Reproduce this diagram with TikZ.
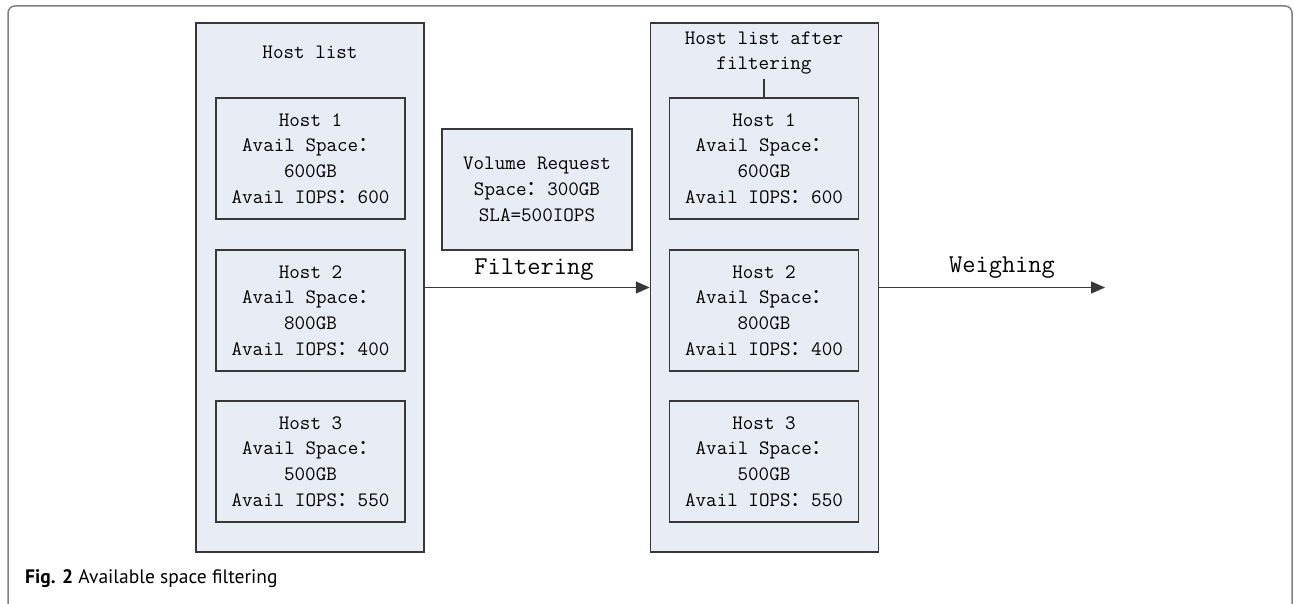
\documentclass[tikz,border=0pt]{standalone}
\usepackage{fontspec}
\newfontfamily\cjk{Noto Sans CJK SC}
\newfontfamily\capfont{PT Sans}
\usetikzlibrary{arrows.meta}
\definecolor{boxfill}{HTML}{E8ECF5}
\definecolor{boxline}{HTML}{383838}
\definecolor{frameline}{HTML}{808080}
\newcommand\diagfont{\ttfamily\fontsize{20.5}{25.7}\selectfont}
\newcommand\flowfont{\ttfamily\fontsize{25.7}{30}\selectfont}
\newcommand\fwcolon{{\cjk ：}}
\begin{document}
\begin{tikzpicture}[x=1pt,y=-1pt,
  bigbox/.style={draw=boxline, fill=boxfill, line width=1.5pt, minimum width=228pt, minimum height=529pt, inner sep=0pt},
  hostbox/.style={draw=boxline, fill=boxfill, line width=1.5pt, minimum width=189pt, minimum height=121pt, inner sep=0pt, align=center, font=\diagfont},
  titletext/.style={align=center, font=\diagfont, inner sep=4pt},
  flowlabel/.style={font=\flowfont, inner sep=0pt},
  conn/.style={draw=boxline, line width=1.5pt},
  flowarrow/.style={conn, -{Triangle[length=14pt,width=12pt]}}]
\useasboundingbox (0,0) rectangle (1294,604);
% outer frame
\draw[frameline, line width=1.5pt, rounded corners=7pt] (8,620) -- (8,6) -- (1292,6) -- (1292,620);
% big boxes
\node[bigbox] (left) at (310,287.5) {};
\node[bigbox] (right) at (764.5,287.5) {};
% titles
\node[titletext] (ltitle) at (310,52) {Host list};
\node[titletext] (rtitle) at (764,53) {Host list after\\filtering};
% left hosts
\node[hostbox] (lh1) at (310.5,158.5) {Host 1\\Avail Space\fwcolon\\600GB\\Avail IOPS\fwcolon 600};
\node[hostbox] (lh2) at (310.5,310.5) {Host 2\\Avail Space\fwcolon\\800GB\\Avail IOPS\fwcolon 400};
\node[hostbox] (lh3) at (310.5,461.5) {Host 3\\Avail Space\fwcolon\\500GB\\Avail IOPS\fwcolon 550};
% right hosts
\node[hostbox] (rh1) at (764,158.5) {Host 1\\Avail Space\fwcolon\\600GB\\Avail IOPS\fwcolon 600};
\node[hostbox] (rh2) at (764,310.5) {Host 2\\Avail Space\fwcolon\\800GB\\Avail IOPS\fwcolon 400};
\node[hostbox] (rh3) at (764,461.5) {Host 3\\Avail Space\fwcolon\\500GB\\Avail IOPS\fwcolon 550};
\draw[conn] (rtitle.south) -- (rh1.north);
% volume request
\node[hostbox, minimum width=190pt] (req) at (537,189.5) {Volume Request\\Space\fwcolon 300GB\\SLA=500IOPS};
% flows
\coordinate (wend) at (1105,287.5);
\draw[flowarrow] (left.east) -- (right.west);
\draw[flowarrow] (right.east) -- (wend);
\node[flowlabel] (flab) at (534,270) {Filtering};
\node[flowlabel] (wlab) at (1002,268) {Weighing};
% caption
\node[anchor=base west, inner sep=0pt, font=\capfont\fontsize{19.5}{22}\selectfont] (cap) at (25,583) {\textbf{Fig. 2} Available space filtering};
\end{tikzpicture}
\end{document}
